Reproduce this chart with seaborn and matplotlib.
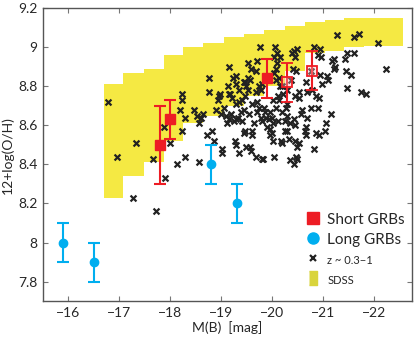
import numpy as np
import pandas as pd
import matplotlib
matplotlib.use('Agg')
import matplotlib.pyplot as plt
import seaborn as sns
from matplotlib.lines import Line2D

# SDSS band: bin edges in M(B) and top / bottom of the 12+log(O/H) band per bin
sdss_edges = [-16.69, -17.08, -17.48, -17.87, -18.26, -18.65, -19.05, -19.44,
              -19.84, -20.25, -20.65, -21.04, -21.41, -21.80, -22.20, -22.57]
sdss_top = [8.81, 8.87, 8.89, 8.96, 9.00, 9.02, 9.05, 9.07,
            9.09, 9.11, 9.13, 9.14, 9.15, 9.15, 9.15]
sdss_bottom = [8.23, 8.34, 8.41, 8.52, 8.61, 8.65, 8.70, 8.75,
               8.80, 8.88, 8.97, 8.98, 9.00, 9.005, 9.005]

# field galaxies z ~ 0.3-1 : (M(B), 12+log(O/H))
field_pts = [
    (-16.77, 8.72), (-17.33, 8.51), (-16.96, 8.44), (-17.67, 8.43), (-17.87, 8.59), (-17.99, 8.51),
    (-18.24, 8.76), (-18.24, 8.73), (-18.19, 8.68), (-18.29, 8.64), (-18.24, 8.57), (-18.47, 8.68),
    (-18.53, 8.65), (-18.65, 8.66), (-18.57, 8.61), (-18.29, 8.44), (-18.73, 8.55), (-18.82, 8.57),
    (-18.86, 8.52), (-19.01, 8.46), (-18.77, 8.84), (-18.77, 8.77), (-18.97, 8.76), (-18.93, 8.73),
    (-19.16, 8.90), (-19.14, 8.80), (-19.23, 8.84), (-19.29, 8.85), (-19.18, 8.76), (-19.35, 8.78),
    (-19.06, 8.69), (-19.09, 8.65), (-19.12, 8.61), (-19.19, 8.66), (-19.29, 8.63), (-19.39, 8.67),
    (-19.42, 8.73), (-19.35, 8.72), (-19.45, 8.82), (-19.52, 8.84), (-19.53, 8.92), (-19.58, 8.89),
    (-19.71, 8.93), (-19.69, 8.88), (-19.76, 9.00), (-19.75, 8.80), (-19.78, 8.78), (-19.81, 8.81),
    (-19.53, 8.78), (-19.46, 8.57), (-19.61, 8.57), (-19.27, 8.52), (-19.35, 8.46), (-19.48, 8.49),
    (-19.57, 8.49), (-19.65, 8.61), (-19.78, 8.64), (-19.88, 8.64), (-19.94, 8.63), (-19.75, 8.69),
    (-19.85, 8.69), (-19.90, 8.59), (-19.99, 8.56), (-20.01, 8.52), (-20.17, 8.52),
    (-20.06, 9.00), (-20.10, 8.97), (-20.03, 8.95), (-20.16, 8.95), (-20.09, 8.92), (-20.07, 8.89),
    (-20.04, 8.87), (-20.14, 8.84), (-20.08, 8.83), (-20.01, 8.73), (-20.11, 8.75), (-20.14, 8.73),
    (-20.07, 8.69), (-20.27, 8.69), (-20.30, 8.71), (-20.29, 8.65), (-20.25, 8.57),
    (-20.40, 8.97), (-20.43, 8.98), (-20.50, 8.99), (-20.46, 8.95), (-20.45, 8.75), (-20.53, 8.74),
    (-20.53, 8.77), (-20.35, 8.61), (-20.45, 8.60), (-20.46, 8.52), (-20.53, 8.51), (-20.64, 8.57),
    (-20.66, 8.55), (-20.59, 8.68), (-20.69, 8.64), (-20.76, 8.69), (-20.66, 8.82), (-20.69, 8.77),
    (-20.79, 8.78), (-20.82, 9.00), (-20.95, 8.99), (-20.97, 8.95), (-20.90, 8.96), (-20.87, 8.75),
    (-20.92, 8.74), (-20.91, 8.69), (-20.92, 8.55), (-20.82, 8.48), (-20.99, 8.81), (-21.08, 8.85),
    (-21.10, 8.83), (-21.07, 8.61), (-21.15, 8.66), (-21.18, 8.93), (-21.22, 8.94), (-21.22, 8.89),
    (-21.24, 8.90), (-21.43, 8.94), (-21.48, 8.97), (-21.61, 8.97), (-21.27, 9.06), (-21.61, 9.05),
    (-21.71, 9.07), (-21.56, 8.86), (-21.48, 8.79), (-21.74, 8.77), (-21.84, 8.76), (-22.08, 9.02),
    (-22.23, 8.89), (-20.48, 8.44), (-19.68, 8.44), (-17.90, 8.33), (-17.27, 8.23), (-17.73, 8.16),
    (-18.14, 8.40), (-18.57, 8.41), (-19.82, 8.43), (-20.50, 8.43), (-20.43, 8.40),
    # dense cluster
    (-19.29, 8.81), (-19.47, 8.82), (-19.56, 8.83), (-18.96, 8.75), (-19.16, 8.76), (-19.21, 8.74),
    (-19.30, 8.71), (-19.47, 8.75), (-19.60, 8.71), (-19.71, 8.72), (-19.68, 8.77), (-18.61, 8.64),
    (-18.90, 8.68), (-19.00, 8.66), (-19.16, 8.63), (-19.25, 8.62), (-19.34, 8.64), (-19.42, 8.62),
    (-19.70, 8.67), (-19.87, 8.67), (-20.00, 8.64), (-19.45, 8.56), (-19.61, 8.55), (-19.80, 8.62),
    (-20.01, 8.61), (-20.12, 8.62), (-20.25, 8.62), (-20.43, 8.63), (-19.97, 8.55), (-20.20, 8.51),
    (-20.33, 8.53), (-20.50, 8.49), (-19.02, 8.48), (-19.30, 8.50), (-19.58, 8.47), (-19.81, 8.43),
    (-20.04, 8.44), (-20.35, 8.42), (-20.41, 8.89), (-20.48, 8.88), (-20.77, 8.88), (-20.95, 8.86),
    (-21.45, 8.88), (-19.49, 8.80), (-19.45, 8.68), (-19.55, 8.66), (-19.97, 8.67), (-20.20, 8.67),
    (-20.56, 8.66), (-19.97, 8.58), (-20.29, 8.57), (-20.67, 8.59), (-20.86, 8.56), (-21.05, 8.57),
    (-20.20, 8.80), (-20.30, 8.78), (-20.21, 8.76), (-20.37, 8.83), (-20.15, 8.80),
]

# short GRB hosts (filled and open squares)
short_mb = [-17.80, -18.00, -19.90]
short_oh = [8.50, 8.63, 8.84]
short_err = [0.20, 0.10, 0.10]
short_open_mb = [-20.30, -20.79]
short_open_oh = [8.82, 8.88]
short_open_err = [0.10, 0.10]

# long GRB hosts
long_mb = [-15.89, -16.50, -18.80, -19.31]
long_oh = [8.00, 7.90, 8.40, 8.20]
long_err = [0.10, 0.10, 0.10, 0.10]

RED = '#ed1c24'
CYAN = '#00aeef'
YELLOW = '#f5e943'

sns.set_style('ticks')
plt.rcParams['font.family'] = ['Lato', 'DejaVu Sans']
plt.rcParams['axes.unicode_minus'] = True

fig, ax = plt.subplots(figsize=(4.17, 3.38), dpi=100)
fig.subplots_adjust(left=0.103, right=0.988, top=0.976, bottom=0.109)

ax.fill_between(sdss_edges, sdss_bottom + [sdss_bottom[-1]], sdss_top + [sdss_top[-1]],
                step='post', color=YELLOW, lw=0, zorder=1)

field = pd.DataFrame(field_pts, columns=['mb', 'oh'])
sns.scatterplot(data=field, x='mb', y='oh', marker='x', color='#222222', s=18,
                linewidth=1.6, ax=ax, zorder=3, legend=False)

ax.errorbar(short_mb, short_oh, yerr=short_err, fmt='s', color=RED, ms=7,
            elinewidth=1.5, capsize=4, capthick=1.5, zorder=5)
ax.errorbar(short_open_mb, short_open_oh, yerr=short_open_err, fmt='s', color=RED,
            mfc=(1, 0.75, 0.75, 0.35), mec=RED, mew=1.3, ms=7,
            elinewidth=1.5, capsize=4, capthick=1.5, zorder=5)
ax.errorbar(long_mb, long_oh, yerr=long_err, fmt='o', color=CYAN, ms=6,
            elinewidth=1.5, capsize=4, capthick=1.5, zorder=5)

ax.set_xlim(-15.5, -22.75)
ax.set_ylim(7.7, 9.2)
ax.set_xticks([-16, -17, -18, -19, -20, -21, -22])
ax.set_yticks([7.8, 8.0, 8.2, 8.4, 8.6, 8.8, 9.0, 9.2])
ax.set_yticklabels(['7.8', '8', '8.2', '8.4', '8.6', '8.8', '9', '9.2'])
ax.set_xlabel('M(B)  [mag]', fontsize=10, labelpad=2)
ax.set_ylabel('12+log(O/H)', fontsize=10, labelpad=3)
ax.tick_params(direction='in', top=True, right=True, length=3.5, width=0.8,
               labelsize=10, color='#777777', pad=4)
for sp in ax.spines.values():
    sp.set_color('#555555')
    sp.set_linewidth(1.0)

bar_marker = [(-0.3, -0.5), (0.3, -0.5), (0.3, 0.5), (-0.3, 0.5)]
handles = [
    Line2D([], [], marker='s', color=RED, ls='', ms=8),
    Line2D([], [], marker='o', color=CYAN, ls='', ms=8),
    Line2D([], [], marker='x', color='#222222', ls='', ms=5, mew=1.6),
    Line2D([], [], marker=bar_marker, color='#d9d43c', ls='', ms=10),
]
labels = ['Short GRBs', 'Long GRBs', 'z ~ 0.3\u22121', 'SDSS']
leg = ax.legend(handles, labels, loc='lower left', bbox_to_anchor=(0.695, 0.02),
                frameon=False, handlelength=0.8, handleheight=1.3, handletextpad=0.6,
                labelspacing=0.35, borderaxespad=0.2)
for t, fs in zip(leg.get_texts(), [11, 11, 8, 8]):
    t.set_fontsize(fs)

fig.savefig('out.png', dpi=100)
